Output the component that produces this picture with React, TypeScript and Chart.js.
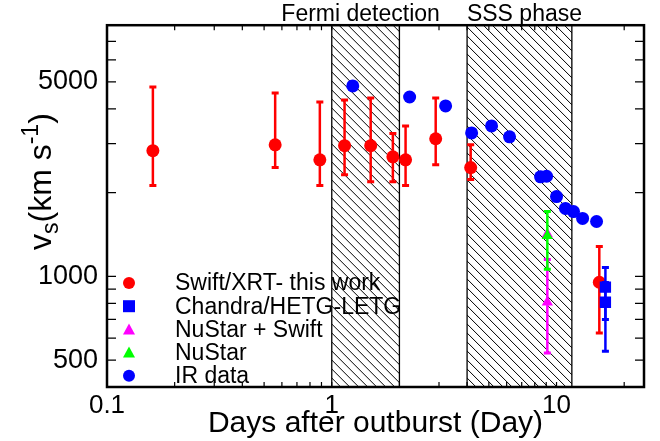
import React, { useEffect, useRef } from "react";
import { Chart, registerables } from "chart.js";

Chart.register(...registerables);

const FAMILY = '"Liberation Sans", Arial, Helvetica, sans-serif';

// ---- Data ----
const xrtDays = [0.16, 0.56, 0.885, 1.14, 1.49, 1.87, 2.13, 2.9, 4.15, 15.5];
const xrtVel = [2830, 2970, 2625, 2950, 2950, 2690, 2625, 3125, 2460, 952];
const xrtLow = [2120, 2460, 2120, 2320, 2190, 2190, 2120, 2520, 2230, 625];
const xrtHigh = [4800, 4560, 4240, 4305, 4380, 3260, 3475, 4380, 2970, 1280];

const chandraDays = [16.5, 16.5];
const chandraVel = [914, 807];
const chandraLow = [700, 538];
const chandraHigh = [1077, 950];

const nuSwiftDays = [9.1, 9.1];
const nuSwiftVel = [1420, 807];
const nuSwiftLow = [1420, 530];
const nuSwiftHigh = [1420, 1150];

const nuStarDays = [9.1];
const nuStarVel = [1400];
const nuStarLow = [1060];
const nuStarHigh = [1710];

const irDays = [1.24, 2.22, 3.21, 4.19, 5.14, 6.18, 8.49, 9.03, 10.0, 10.96, 11.9, 13.06, 15.07];
const irVel = [4840, 4415, 4100, 3280, 3475, 3175, 2280, 2290, 1935, 1755, 1710, 1615, 1575];

const regionStart = [1, 4];
const regionEnd = [2, 11.7];
const regionLabels = ["Fermi detection", "SSS phase"];

const xTickValues = [0.1, 0.2, 0.3, 0.4, 0.5, 0.6, 0.7, 0.8, 0.9, 1, 2, 3, 4, 5, 6, 7, 8, 9, 10, 20];
const xTickLabels = ["0.1", "1", "10"];
const yTickValues = [500, 600, 700, 800, 900, 1000, 2000, 3000, 4000, 5000, 6000, 7000, 8000];
const yTickLabels = ["500", "1000", "5000"];

const seriesNames = ["Swift/XRT- this work", "Chandra/HETG-LETG", "NuStar + Swift", "NuStar", "IR data"];
const seriesColors = ["#ff0000", "#0000ff", "#ff00ff", "#00ff00", "#0000ff"];
const seriesStyles = ["circle", "rect", "triangle", "triangle", "circle"];

const errorBars: Record<number, { low: number[]; high: number[] }> = {
  0: { low: xrtLow, high: xrtHigh },
  1: { low: chandraLow, high: chandraHigh },
  2: { low: nuSwiftLow, high: nuSwiftHigh },
  3: { low: nuStarLow, high: nuStarHigh },
};

function pts(xs: number[], ys: number[]) {
  return xs.map((x, i) => ({ x, y: ys[i] }));
}

function drawMarker(ctx: CanvasRenderingContext2D, style: string, x: number, y: number, color: string) {
  ctx.save();
  ctx.fillStyle = color;
  ctx.beginPath();
  if (style === "circle") {
    ctx.arc(x, y, 6, 0, Math.PI * 2);
  } else if (style === "rect") {
    ctx.rect(x - 6, y - 6, 12, 12);
  } else {
    ctx.moveTo(x, y - 6);
    ctx.lineTo(x + 6, y + 5);
    ctx.lineTo(x - 6, y + 5);
    ctx.closePath();
  }
  ctx.fill();
  ctx.restore();
}

const overlayPlugin = {
  id: "overlay",
  beforeDatasetsDraw(chart: any) {
    const { ctx, chartArea: a, scales } = chart;
    const x = scales.x;
    ctx.save();
    for (let i = 0; i < regionStart.length; i++) {
      const x0 = x.getPixelForValue(regionStart[i]);
      const x1 = x.getPixelForValue(regionEnd[i]);
      const h = a.bottom - a.top;
      ctx.save();
      ctx.beginPath();
      ctx.rect(x0, a.top, x1 - x0, h);
      ctx.clip();
      ctx.beginPath();
      for (let s = x0 - h; s < x1; s += 9) {
        ctx.moveTo(s, a.top);
        ctx.lineTo(s + h, a.bottom);
      }
      ctx.strokeStyle = "#000";
      ctx.lineWidth = 1;
      ctx.stroke();
      ctx.restore();
      ctx.beginPath();
      ctx.moveTo(x0, a.top);
      ctx.lineTo(x0, a.bottom);
      ctx.moveTo(x1, a.top);
      ctx.lineTo(x1, a.bottom);
      ctx.strokeStyle = "#000";
      ctx.lineWidth = 1.3;
      ctx.stroke();
      // labels above
      ctx.fillStyle = "#000";
      ctx.font = `23px ${FAMILY}`;
      ctx.textAlign = "center";
      ctx.textBaseline = "alphabetic";
      const mid = (x0 + x1) / 2 + (i === 0 ? -5 : 5);
      ctx.fillText(regionLabels[i], mid, 21);
    }
    ctx.restore();
  },
  beforeDatasetDraw(chart: any, args: any) {
    const eb = errorBars[args.index];
    if (!eb) return;
    const { ctx, scales } = chart;
    const ds = chart.data.datasets[args.index];
    ctx.save();
    ctx.strokeStyle = ds.backgroundColor;
    ds.data.forEach((p: any, i: number) => {
      const px = scales.x.getPixelForValue(p.x);
      const yl = scales.y.getPixelForValue(eb.low[i]);
      const yh = scales.y.getPixelForValue(eb.high[i]);
      if (Math.abs(yl - yh) < 1) return;
      ctx.lineWidth = 2.5;
      ctx.beginPath();
      ctx.moveTo(px, yl);
      ctx.lineTo(px, yh);
      ctx.stroke();
      ctx.lineWidth = 3;
      ctx.beginPath();
      ctx.moveTo(px - 3.5, yl);
      ctx.lineTo(px + 3.5, yl);
      ctx.moveTo(px - 3.5, yh);
      ctx.lineTo(px + 3.5, yh);
      ctx.stroke();
    });
    ctx.restore();
  },
  afterDraw(chart: any) {
    const { ctx, chartArea: a, scales } = chart;
    ctx.save();
    ctx.strokeStyle = "#000";
    // ticks
    ctx.lineWidth = 1.2;
    ctx.beginPath();
    scales.x.ticks.forEach((t: any) => {
      const px = scales.x.getPixelForValue(t.value);
      if (px <= a.left + 1 || px >= a.right - 1) return;
      ctx.moveTo(px, a.bottom);
      ctx.lineTo(px, a.bottom - 5);
      ctx.moveTo(px, a.top);
      ctx.lineTo(px, a.top + 5);
    });
    scales.y.ticks.forEach((t: any) => {
      const py = scales.y.getPixelForValue(t.value);
      if (py <= a.top + 1 || py >= a.bottom - 1) return;
      ctx.moveTo(a.left, py);
      ctx.lineTo(a.left + 9, py);
      ctx.moveTo(a.right, py);
      ctx.lineTo(a.right - 9, py);
    });
    ctx.stroke();
    // frame
    ctx.lineWidth = 2.5;
    ctx.strokeRect(a.left, a.top, a.right - a.left, a.bottom - a.top);

    // legend
    ctx.font = `23px ${FAMILY}`;
    ctx.textAlign = "left";
    ctx.textBaseline = "middle";
    ctx.fillStyle = "#000";
    seriesNames.forEach((name, i) => {
      const ry = 283 + i * 23.2;
      drawMarker(ctx, seriesStyles[i], 129, ry, seriesColors[i]);
      ctx.fillStyle = "#000";
      ctx.fillText(name, 175, ry + 1);
    });

    // x title
    ctx.font = `30px ${FAMILY}`;
    ctx.textAlign = "center";
    ctx.textBaseline = "alphabetic";
    ctx.fillText("Days after outburst (Day)", (a.left + a.right) / 2, 432);

    // y title with sub/superscript
    ctx.textAlign = "left";
    ctx.textBaseline = "alphabetic";
    ctx.translate(51, 250);
    ctx.rotate(-Math.PI / 2);
    const F = 32;
    const parts = [
      { t: "v", s: 1, dy: 0 },
      { t: "s", s: 0.72, dy: 0.22 * F },
      { t: "(km s", s: 1, dy: 0 },
      { t: "-1", s: 0.72, dy: -0.42 * F },
      { t: ")", s: 1, dy: 0 },
    ];
    let px = 0;
    parts.forEach((p) => {
      ctx.font = `${Math.round(F * p.s)}px ${FAMILY}`;
      ctx.fillText(p.t, px, p.dy);
      px += ctx.measureText(p.t).width;
    });
    ctx.restore();
  },
};

export default function App() {
  const canvasRef = useRef<HTMLCanvasElement | null>(null);

  useEffect(() => {
    const canvas = canvasRef.current;
    if (!canvas) return;
    const chart = new Chart(canvas, {
      type: "scatter",
      data: {
        datasets: [
          {
            label: seriesNames[0],
            data: pts(xrtDays, xrtVel),
            backgroundColor: seriesColors[0],
            borderColor: seriesColors[0],
            pointStyle: "circle",
            pointRadius: 6.5,
            borderWidth: 0,
            order: 3,
          },
          {
            label: seriesNames[1],
            data: pts(chandraDays, chandraVel),
            backgroundColor: seriesColors[1],
            borderColor: seriesColors[1],
            pointStyle: "rect",
            pointRadius: 8,
            borderWidth: 0,
            order: 0,
          },
          {
            label: seriesNames[2],
            data: pts(nuSwiftDays, nuSwiftVel),
            backgroundColor: seriesColors[2],
            borderColor: seriesColors[2],
            pointStyle: "triangle",
            pointRadius: 6.5,
            borderWidth: 0,
            order: 2,
          },
          {
            label: seriesNames[3],
            data: pts(nuStarDays, nuStarVel),
            backgroundColor: seriesColors[3],
            borderColor: seriesColors[3],
            pointStyle: "triangle",
            pointRadius: 6.5,
            borderWidth: 0,
            order: 1,
          },
          {
            label: seriesNames[4],
            data: pts(irDays, irVel),
            backgroundColor: seriesColors[4],
            borderColor: seriesColors[4],
            pointStyle: "circle",
            pointRadius: 6.5,
            borderWidth: 0,
            order: 4,
          },
        ],
      },
      options: {
        responsive: false,
        animation: false,
        events: [],
        layout: { padding: { left: 0, top: 24, right: 16, bottom: 0 } },
        plugins: {
          legend: { display: false },
          tooltip: { enabled: false },
          title: { display: false },
        },
        scales: {
          x: {
            type: "logarithmic",
            min: 0.1,
            max: 24.5,
            grid: { display: false, drawTicks: false },
            border: { display: false },
            afterBuildTicks: (scale: any) => {
              scale.ticks = xTickValues.map((v) => ({ value: v }));
            },
            afterFit: (scale: any) => {
              scale.height = 54;
            },
            ticks: {
              autoSkip: false,
              maxRotation: 0,
              padding: 3,
              color: "#000",
              font: { family: FAMILY, size: 26 },
              callback: (value: any) => {
                const s = String(Number(value));
                return xTickLabels.includes(s) ? s : "";
              },
            },
          },
          y: {
            type: "logarithmic",
            min: 400,
            max: 8000,
            grid: { display: false, drawTicks: false },
            border: { display: false },
            afterBuildTicks: (scale: any) => {
              scale.ticks = yTickValues.map((v) => ({ value: v }));
            },
            afterFit: (scale: any) => {
              scale.width = 107;
            },
            ticks: {
              autoSkip: false,
              padding: 9,
              color: "#000",
              font: { family: FAMILY, size: 27 },
              callback: (value: any) => {
                const s = String(Number(value));
                return yTickLabels.includes(s) ? s : "";
              },
            },
          },
        },
      },
      plugins: [overlayPlugin],
    });
    return () => chart.destroy();
  }, []);

  return (
    <div style={{ position: "fixed", left: 0, top: 0, width: 660, height: 441, background: "#fff" }}>
      <canvas ref={canvasRef} width={660} height={441} style={{ display: "block", width: 660, height: 441 }} />
    </div>
  );
}
